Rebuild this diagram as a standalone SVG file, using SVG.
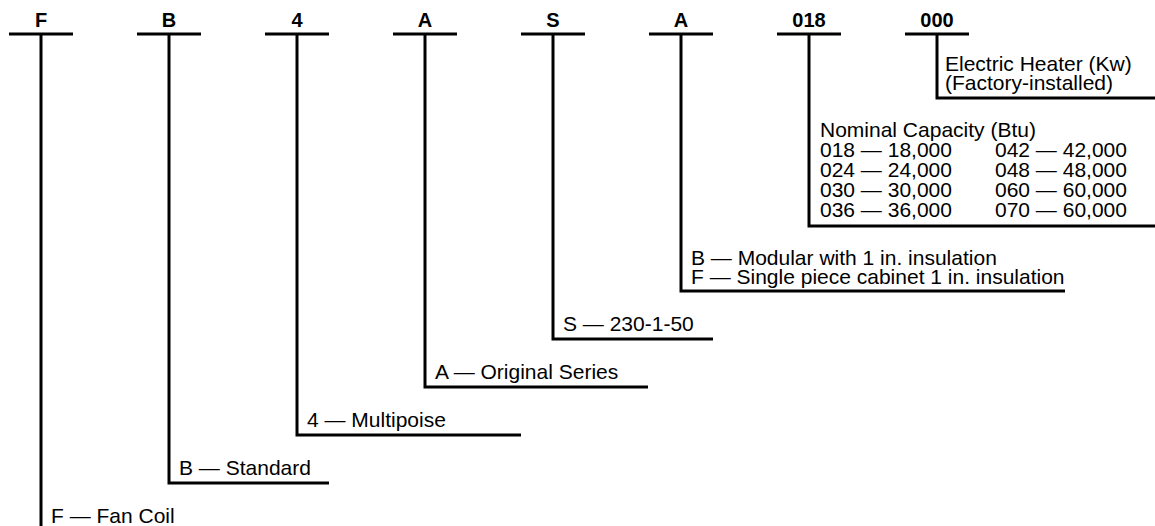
<svg xmlns="http://www.w3.org/2000/svg" width="1155" height="526" viewBox="0 0 1155 526">
  <style>
    .bar { stroke: #000; stroke-width: 3; fill: none; stroke-linejoin: miter; stroke-linecap: butt; }
    .code { font-family: "Liberation Sans", Arial, sans-serif; font-weight: bold; font-size: 20px; fill: #000; text-anchor: middle; }
    .desc { font-family: "Liberation Sans", Arial, sans-serif; font-size: 21px; fill: #000; }
  </style>
  <rect width="1155" height="526" fill="#fff"/>

  <!-- code position headers -->
  <g id="pos-F"><line class="bar" x1="9" y1="34" x2="73" y2="34"/><text class="code" x="41" y="27">F</text></g>
  <g id="pos-B"><line class="bar" x1="137" y1="34" x2="201" y2="34"/><text class="code" x="169" y="27">B</text></g>
  <g id="pos-4"><line class="bar" x1="265" y1="34" x2="329" y2="34"/><text class="code" x="297" y="27">4</text></g>
  <g id="pos-A1"><line class="bar" x1="393" y1="34" x2="457" y2="34"/><text class="code" x="425" y="27">A</text></g>
  <g id="pos-S"><line class="bar" x1="521" y1="34" x2="585" y2="34"/><text class="code" x="553" y="27">S</text></g>
  <g id="pos-A2"><line class="bar" x1="649" y1="34" x2="713" y2="34"/><text class="code" x="681" y="27">A</text></g>
  <g id="pos-018"><line class="bar" x1="777" y1="34" x2="841" y2="34"/><text class="code" x="809" y="27">018</text></g>
  <g id="pos-000"><line class="bar" x1="905" y1="34" x2="969" y2="34"/><text class="code" x="937" y="27">000</text></g>

  <!-- leader lines from each header down to its description -->
  <g id="connectors">
    <polyline class="bar" points="41,34 41,526"/>
    <polyline class="bar" points="169,34 169,483 329,483"/>
    <polyline class="bar" points="297,34 297,435 521,435"/>
    <polyline class="bar" points="425,34 425,387 648,387"/>
    <polyline class="bar" points="553,34 553,339 713,339"/>
    <polyline class="bar" points="681,34 681,291 1065,291"/>
    <polyline class="bar" points="809,34 809,226 1155,226"/>
    <polyline class="bar" points="937,34 937,98 1155,98"/>
  </g>

  <!-- descriptions -->
  <g id="desc-000">
    <text class="desc" x="945" y="71">Electric Heater (Kw)</text>
    <text class="desc" x="945" y="90">(Factory-installed)</text>
  </g>
  <g id="desc-018">
    <text class="desc" x="820" y="137">Nominal Capacity (Btu)</text>
    <text class="desc" x="820" y="157">018 — 18,000</text>
    <text class="desc" x="820" y="177">024 — 24,000</text>
    <text class="desc" x="820" y="197">030 — 30,000</text>
    <text class="desc" x="820" y="217">036 — 36,000</text>
    <text class="desc" x="995" y="157">042 — 42,000</text>
    <text class="desc" x="995" y="177">048 — 48,000</text>
    <text class="desc" x="995" y="197">060 — 60,000</text>
    <text class="desc" x="995" y="217">070 — 60,000</text>
  </g>
  <g id="desc-A2">
    <text class="desc" x="691" y="265">B — Modular with 1 in. insulation</text>
    <text class="desc" x="691" y="284">F — Single piece cabinet 1 in. insulation</text>
  </g>
  <g id="desc-S"><text class="desc" x="563" y="331">S — 230-1-50</text></g>
  <g id="desc-A1"><text class="desc" x="435" y="379">A — Original Series</text></g>
  <g id="desc-4"><text class="desc" x="307" y="427">4 — Multipoise</text></g>
  <g id="desc-B"><text class="desc" x="179" y="475">B — Standard</text></g>
  <g id="desc-F"><text class="desc" x="51" y="523">F — Fan Coil</text></g>
</svg>
